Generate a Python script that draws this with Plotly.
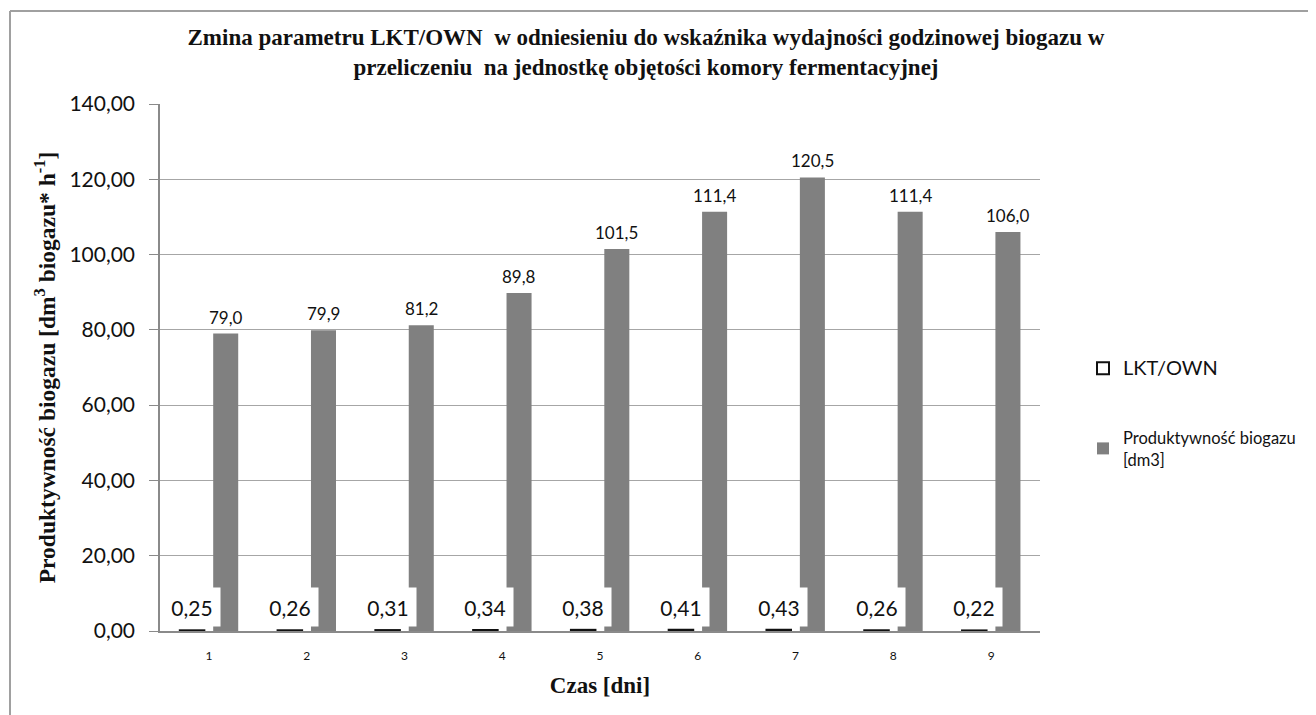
import plotly.graph_objects as go

days = [1, 2, 3, 4, 5, 6, 7, 8, 9]
lkt_own = [0.25, 0.26, 0.31, 0.34, 0.38, 0.41, 0.43, 0.26, 0.22]
produktywnosc = [79.0, 79.9, 81.2, 89.8, 101.5, 111.4, 120.5, 111.4, 106.0]
y_ticks = [0, 20, 40, 60, 80, 100, 120, 140]

BAR_W = 0.256
OFF_LKT = -0.30
OFF_PROD = 0.044

SANS = "Lato, 'Open Sans', sans-serif"
SERIF = "'Liberation Serif', 'Times New Roman', serif"

# page body margin (default 8px) shifts the figure; compensate
PAGE_OFF = 8
W, H = 1316, 715
L, T = 160 - PAGE_OFF, 104 - PAGE_OFF
pw = 880
plot_bottom = 631 - PAGE_OFF
R = W - L - pw
B = H - plot_bottom
ph = plot_bottom - T


def px_x(p_page):
    return (p_page - PAGE_OFF - L) / pw


def px_y(p_page):
    return (plot_bottom - (p_page - PAGE_OFF)) / ph


fig = go.Figure()
fig.add_trace(go.Bar(
    x=days, y=lkt_own, name='<span style="font-size:20px">LKT/OWN</span>',
    width=BAR_W, offset=OFF_LKT,
    marker=dict(color="white", line=dict(color="#111111", width=1.5)),
    legendgroup="a", hoverinfo="x+y",
))
fig.add_trace(go.Bar(
    x=days, y=produktywnosc, name="Produktywność biogazu<br>[dm3]",
    width=BAR_W, offset=OFF_PROD,
    marker=dict(color="#808080", line=dict(width=0)),
    legendgroup="b", hoverinfo="x+y",
))

annotations = []
for d, v in zip(days, lkt_own):
    annotations.append(dict(
        x=d + OFF_LKT + BAR_W / 2, y=0, xref="x", yref="y",
        text=f"{v:.2f}".replace(".", ","), showarrow=False,
        yanchor="bottom", xanchor="center", yshift=4,
        font=dict(family=SANS, size=21, color="#111111"),
        bgcolor="white", width=56, height=38, borderpad=0,
    ))
for d, v in zip(days, produktywnosc):
    annotations.append(dict(
        x=d + OFF_PROD + BAR_W / 2, y=v, xref="x", yref="y",
        text=f"{v:.1f}".replace(".", ","), showarrow=False,
        yanchor="bottom", xanchor="center", yshift=4,
        font=dict(family=SANS, size=17, color="#111111"),
    ))

shapes = [
    dict(type="line", xref="paper", yref="paper", x0=px_x(10), x1=px_x(W + 20),
         y0=px_y(11), y1=px_y(11), line=dict(color="#a0a0a0", width=2)),
    dict(type="line", xref="paper", yref="paper", x0=px_x(10), x1=px_x(10),
         y0=px_y(11), y1=px_y(H + 20), line=dict(color="#a0a0a0", width=2)),
]

fig.update_layout(
    width=W, height=H,
    margin=dict(l=L, r=R, t=T, b=B),
    paper_bgcolor="white", plot_bgcolor="white",
    separators=", ",
    barmode="overlay",
    title=dict(
        text="Zmina parametru LKT/OWN  w odniesieniu do wskaźnika wydajności godzinowej biogazu w<br>przeliczeniu  na jednostkę objętości komory fermentacyjnej",
        x=(646 - PAGE_OFF) / W, xanchor="center", y=1 - 37 / H, yanchor="middle",
        font=dict(family=SERIF, size=23, color="#111111", weight="bold"),
    ),
    showlegend=True,
    legend=dict(
        x=px_x(1083), xanchor="left", y=px_y(351), yanchor="top",
        font=dict(family=SANS, size=16.5, color="#111111"),
        traceorder="grouped", tracegroupgap=45,
        bgcolor="rgba(0,0,0,0)", itemsizing="constant",
    ),
    xaxis=dict(
        range=[0.5, 9.5], tickmode="array", tickvals=days,
        ticktext=[str(d) for d in days],
        showline=True, linecolor="#8a8a8a", linewidth=1.5,
        showgrid=False, zeroline=False, ticks="",
        ticklabelstandoff=13,
        tickfont=dict(family=SANS, size=12, color="#111111"),
        title=dict(text="Czas [dni]", standoff=15,
                   font=dict(family=SERIF, size=23, color="#111111", weight="bold")),
    ),
    yaxis=dict(
        range=[0, 140], tickmode="array", tickvals=y_ticks,
        tickformat=".2f",
        showline=True, linecolor="#8a8a8a", linewidth=1.5,
        showgrid=True, gridcolor="#a6a6a6", gridwidth=1.2,
        zeroline=False, ticks="outside", ticklen=9, tickcolor="#8a8a8a",
        ticklabelstandoff=10,
        tickfont=dict(family=SANS, size=21, color="#111111"),
        title=dict(text="Produktywność biogazu [dm<sup>3</sup> biogazu* h<sup>-1</sup>]",
                   standoff=7,
                   font=dict(family=SERIF, size=23.5, color="#111111", weight="bold")),
    ),
    annotations=annotations,
    shapes=shapes,
)

fig.write_html("out.html")
